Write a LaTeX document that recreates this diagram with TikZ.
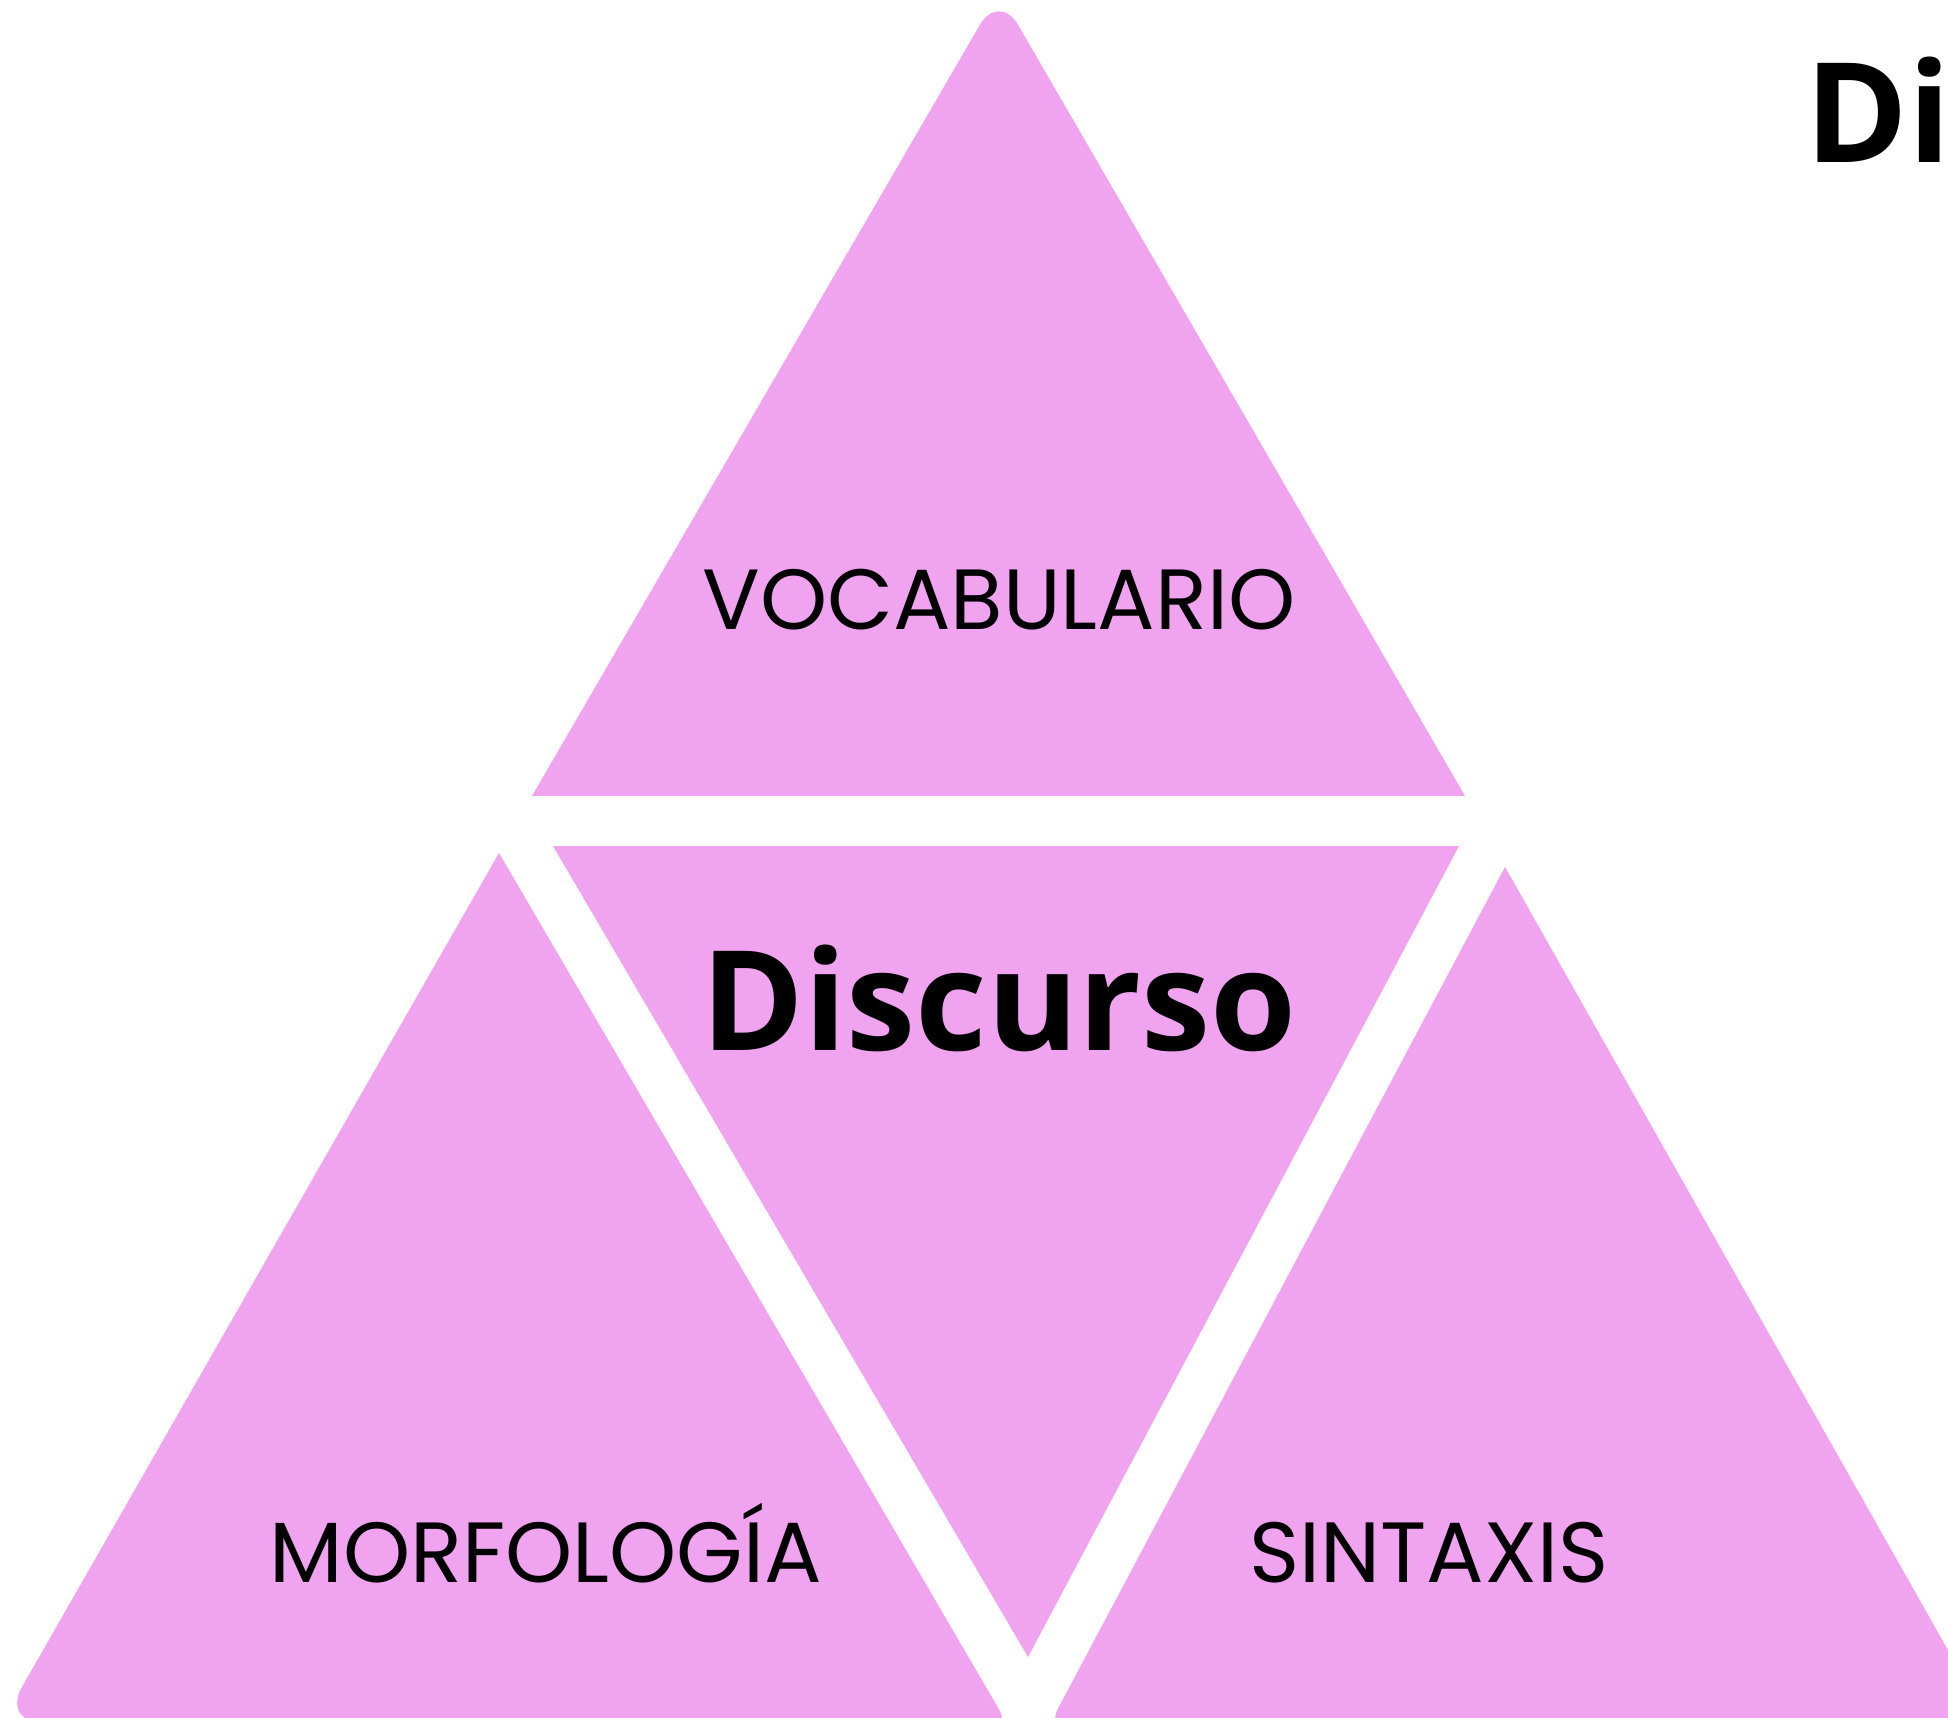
\documentclass[tikz,border=0pt]{standalone}
\usepackage{fontspec}
\usepackage{tikz}
\newfontfamily\partfont{Poppins}
\newfontfamily\wordfont{Open Sans}
\definecolor{triforce}{RGB}{240,164,240}

\begin{document}
\begin{tikzpicture}[x=0.01cm, y=-0.01cm,
    piece/.style={fill=triforce},
    partname/.style={font=\partfont\fontsize{24.3}{28}\selectfont, inner sep=0pt, anchor=base},
    bigword/.style={font=\wordfont\bfseries\fontsize{39.5}{48}\selectfont, inner sep=0pt, anchor=base}]
    \useasboundingbox (0,0) rectangle (1948,1718);
    \clip (0,0) rectangle (1948,1718);

    % Top triangle
    \fill[piece] (532,796) [rounded corners=0.38cm] -- (999,-8) [sharp corners] -- (1465,796) -- cycle;

    % Middle (upside down) triangle
    \fill[piece] (553,846) -- (1459,846) -- (1028,1657) -- cycle;

    % Left triangle
    \fill[piece] (499,853) [rounded corners=0.3cm] -- (1014,1735) [rounded corners=0.4cm] -- (2,1722) [sharp corners] -- cycle;

    % Right triangle
    \fill[piece] (1505,867) -- (1996,1735) [rounded corners=0.3cm] -- (1044,1735) [sharp corners] -- cycle;

    % Texts
    \node[partname] (vocab) at (999,629) {VOCABULARIO};
    \node[partname] (morfo) at (546,1582) {MORFOLOGÍA};
    \node[partname] (sintaxis) at (1429,1582) {SINTAXIS};
    \node[bigword] (discurso) at (999,1050) {Discurso};
    \node[bigword, anchor=base west] (title) at (1805,162) {Di};
\end{tikzpicture}
\end{document}
